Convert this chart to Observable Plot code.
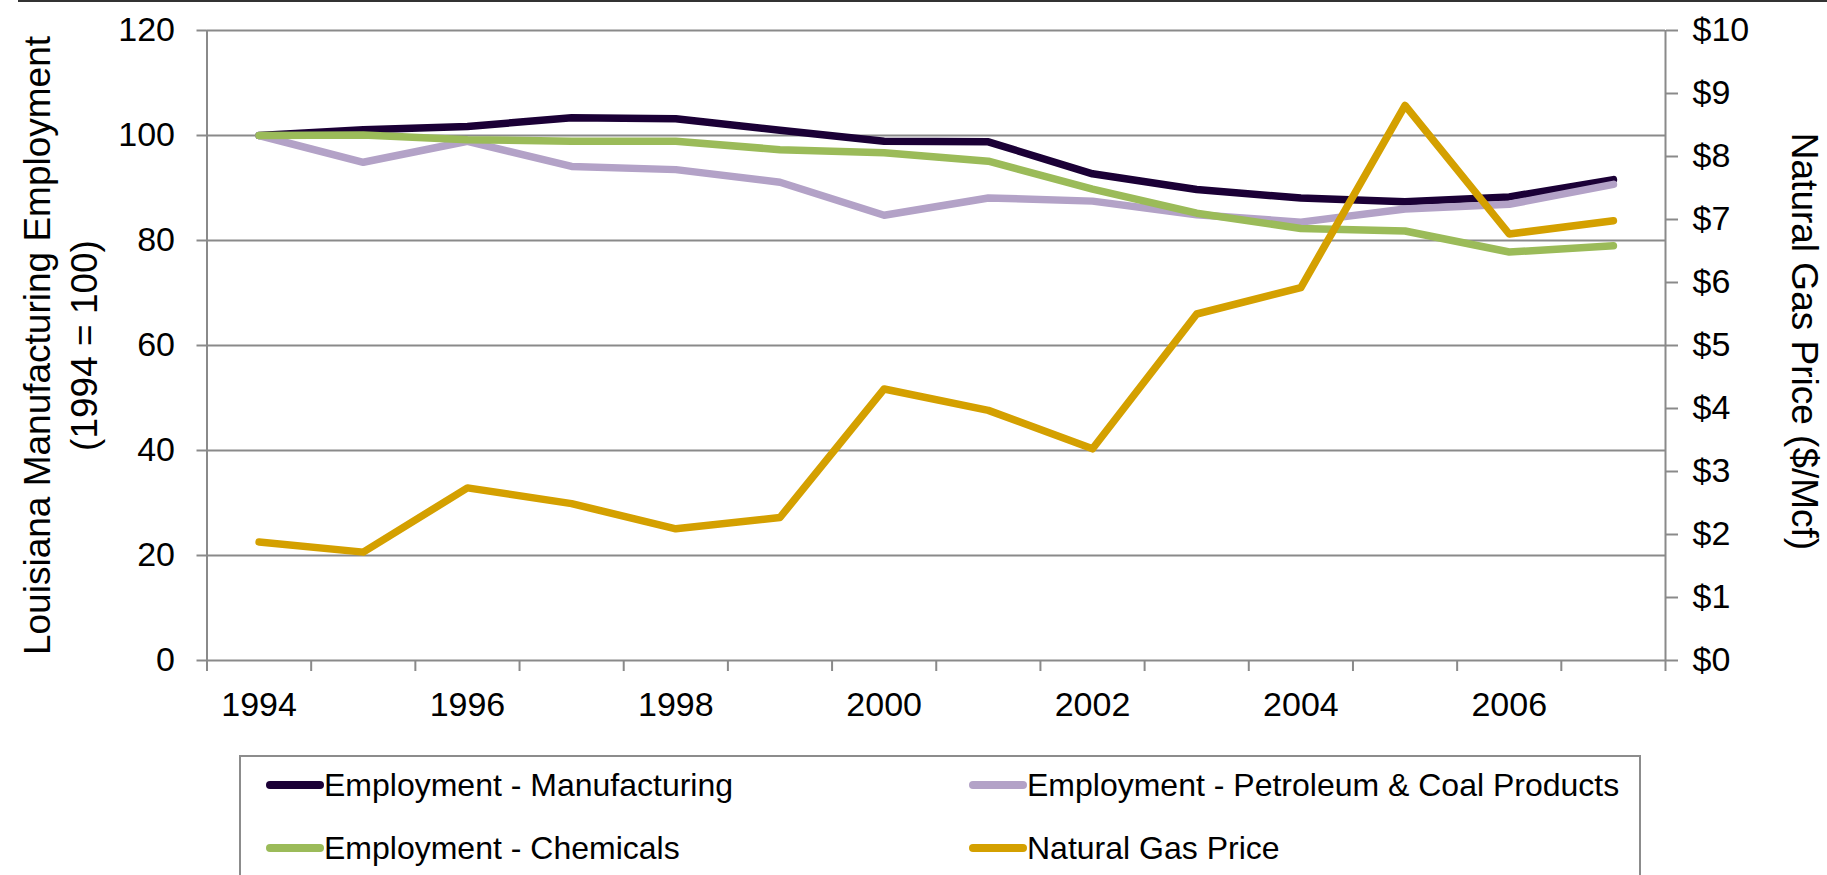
<!DOCTYPE html>
<html><head><meta charset="utf-8">
<script src="https://cdn.jsdelivr.net/npm/d3@7"></script>
<script src="https://cdn.jsdelivr.net/npm/@observablehq/plot@0.6"></script>
<style>
html,body{margin:0;padding:0;background:#fff;}
body{width:1827px;height:875px;overflow:hidden;position:relative;font-family:"Liberation Sans",Arial,sans-serif;}
#topline{position:absolute;left:18px;right:0;top:0;height:0;border-top:2px solid #333;z-index:2;}
#chart{position:absolute;left:0;top:0;}
#legend{position:absolute;left:239px;top:755px;width:1402px;height:140px;border:2px solid #8c8c8c;border-bottom:none;box-sizing:border-box;background:#fff;}
.item{position:absolute;display:flex;align-items:center;height:40px;font-size:32px;color:#000;white-space:nowrap;}
.sw{width:58px;height:8px;border-radius:4px;}
</style></head><body>
<div id="topline"></div>
<div id="chart"></div>
<div id="legend"></div>
<script>
const years = [1994,1995,1996,1997,1998,1999,2000,2001,2002,2003,2004,2005,2006,2007];
const manufacturing = [100, 101.1, 101.7, 103.4, 103.2, 101.0, 98.9, 98.8, 92.7, 89.7, 88.1, 87.4, 88.3, 91.6];
const petroleum     = [100, 94.9, 98.9, 94.1, 93.5, 91.1, 84.8, 88.1, 87.5, 84.9, 83.5, 86.0, 86.9, 90.7];
const chemicals     = [100, 100.1, 99.2, 98.9, 98.9, 97.3, 96.7, 95.1, 89.8, 85.2, 82.3, 81.8, 77.8, 79.0];
const gasPrice      = [1.88, 1.72, 2.74, 2.49, 2.09, 2.27, 4.31, 3.97, 3.36, 5.50, 5.92, 8.81, 6.77, 6.98];
const seriesNames = ["Employment - Manufacturing","Employment - Petroleum & Coal Products","Employment - Chemicals","Natural Gas Price"];
const seriesColors = ["#1b0036","#b3a2c7","#9bbb59","#d4a000"];
const leftTicks = [0,20,40,60,80,100,120];
const rightTicks = [0,1,2,3,4,5,6,7,8,9,10];
const yearLabels = [1994,1996,1998,2000,2002,2004,2006];
const leftTitle = "Louisiana Manufacturing Employment\n(1994 = 100)";
const rightTitle = "Natural Gas Price ($/Mcf)";

const gasToLeft = 12; // $10 on the right axis aligns with 120 on the left axis
const seriesValues = [manufacturing, petroleum, chemicals, gasPrice.map(v => v * gasToLeft)];
const data = [];
seriesNames.forEach((name, s) => years.forEach((yr, i) => data.push({year: yr, series: name, value: seriesValues[s][i]})));
const boundaries = [...years.map(y => y - 0.5), years[years.length-1] + 0.5];
const xDomain = [boundaries[0], boundaries[boundaries.length-1]];
const grey = "#8a8a8a";
const TICKFONT = 34;
const TITLEFONT = 37;

const chart = Plot.plot({
  width: 1827, height: 755,
  marginLeft: 206.5, marginRight: 162, marginTop: 30, marginBottom: 95,
  style: {fontFamily: "'Liberation Sans', Arial, sans-serif", fontSize: TICKFONT + "px", color: "#000", background: "transparent", overflow: "visible"},
  x: {type: "linear", domain: xDomain, axis: null},
  y: {domain: [0, 120], axis: null},
  color: {domain: seriesNames, range: seriesColors},
  marks: [
    Plot.ruleY(leftTicks, {stroke: grey, strokeWidth: 2}),
    Plot.ruleX(xDomain, {stroke: grey, strokeWidth: 2}),
    Plot.axisY(leftTicks, {anchor: "left", tickSize: 10, tickPadding: 22, stroke: grey, strokeWidth: 2, fill: "#000", fontSize: TICKFONT, label: null, tickFormat: d => String(d)}),
    Plot.axisY(rightTicks.map(d => d * gasToLeft), {anchor: "right", tickSize: 12, tickPadding: 15, stroke: grey, strokeWidth: 2, fill: "#000", fontSize: TICKFONT, label: null, tickFormat: d => "$" + Math.round(d / gasToLeft)}),
    Plot.axisX(boundaries, {anchor: "bottom", tickSize: 11, stroke: grey, strokeWidth: 2, label: null, tickFormat: () => ""}),
    Plot.axisX(yearLabels, {anchor: "bottom", tickSize: 0, tickPadding: 31, fill: "#000", fontSize: TICKFONT, label: null, tickFormat: d => String(d)}),
    Plot.line(data, {x: "year", y: "value", z: "series", stroke: "series", strokeWidth: 7.5, strokeLinejoin: "round", strokeLinecap: "round"}),
    Plot.text([leftTitle], {text: d => d, frameAnchor: "left", dx: -148.5, dy: 0, rotate: -90, lineHeight: 1.27, fontSize: TITLEFONT, fill: "#000", textAnchor: "middle", lineAnchor: "middle"}),
    Plot.text([rightTitle], {text: d => d, frameAnchor: "right", dx: 138, dy: -4, rotate: 90, fontSize: TITLEFONT, fill: "#000", textAnchor: "middle", lineAnchor: "middle"})
  ]
});
document.getElementById("chart").appendChild(chart);

// legend (HTML, below the svg)
const legend = document.getElementById("legend");
const pos = [[25, 30], [728, 30], [25, 93], [728, 93]];
seriesNames.forEach((name, i) => {
  const it = document.createElement("div");
  it.className = "item";
  it.style.left = pos[i][0] + "px";
  it.style.top = (pos[i][1] - 20 - 2) + "px";
  const sw = document.createElement("div");
  sw.className = "sw";
  sw.style.background = seriesColors[i];
  const tx = document.createElement("span");
  tx.textContent = name;
  it.appendChild(sw); it.appendChild(tx);
  legend.appendChild(it);
});
</script>
</body></html>
